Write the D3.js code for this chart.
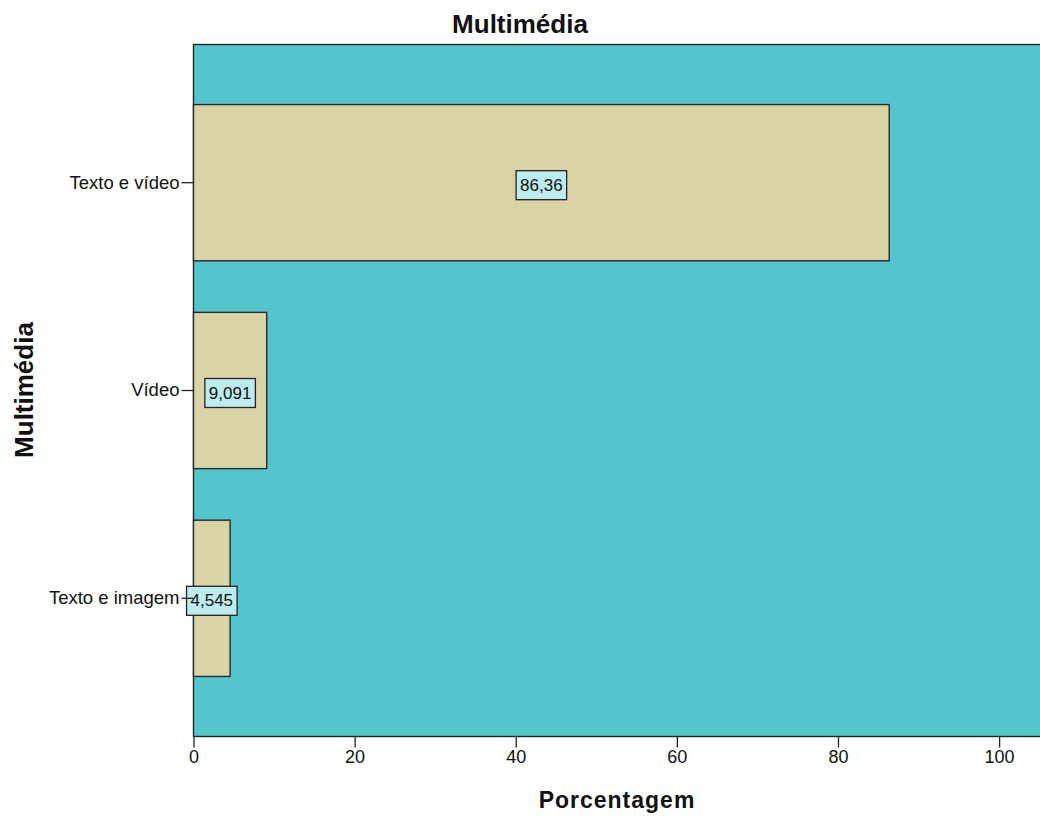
<!DOCTYPE html>
<html><head><meta charset="utf-8">
<script src="https://cdn.jsdelivr.net/npm/d3@7"></script>
<style>body{margin:0;background:#fff;} text{font-family:"Liberation Sans",Arial,sans-serif;}</style>
</head><body>
<svg id="c" width="1040" height="817"></svg>
<script>
const categories = ["Texto e vídeo", "Vídeo", "Texto e imagem"];
const values = [86.36, 9.091, 4.545];
const valueLabels = ["86,36", "9,091", "4,545"];
const xTicks = [0, 20, 40, 60, 80, 100];

const svg = d3.select("#c");
const m = {l: 193.5, t: 44.5, r: 1041, b: 736.5};
const x = d3.scaleLinear().domain([0, 105.2]).range([m.l, m.r]);
const y = d3.scaleBand().domain(categories).range([m.t, m.b]).paddingInner(0.248).paddingOuter(0.289);

svg.append("rect").attr("x", m.l).attr("y", m.t).attr("width", m.r - m.l).attr("height", m.b - m.t)
  .attr("fill", "#53c6cd").attr("stroke", "#222").attr("stroke-width", 1.4);

svg.selectAll(".bar").data(values).enter().append("rect")
  .attr("x", x(0)).attr("y", (d, i) => y(categories[i]))
  .attr("width", d => x(d) - x(0)).attr("height", y.bandwidth())
  .attr("fill", "#d9d3a5").attr("stroke", "#2a2a2a").attr("stroke-width", 1.4);

// value labels
values.forEach((v, i) => {
  const cx = x(v / 2), cy = y(categories[i]) + y.bandwidth() / 2 + 2;
  const g = svg.append("g");
  const t = g.append("text").attr("x", cx).attr("y", cy + 6).attr("text-anchor", "middle")
    .attr("font-size", 17).attr("fill", "#111").text(valueLabels[i]);
  const w = t.node().getComputedTextLength() + 8;
  g.insert("rect", "text").attr("x", cx - w / 2).attr("y", cy - 14).attr("width", w).attr("height", 29)
    .attr("fill", "#bdebee").attr("stroke", "#222").attr("stroke-width", 1.3);
});

// x axis
const xa = svg.append("g").attr("transform", `translate(0,${m.b})`)
  .call(d3.axisBottom(x).tickValues(xTicks).tickSize(11).tickSizeOuter(0).tickPadding(3));
xa.select(".domain").remove();
xa.selectAll("line").attr("stroke", "#222").attr("stroke-width", 1.3);
xa.selectAll("text").attr("font-size", 18).attr("fill", "#111").attr("font-family", "Liberation Sans, Arial, sans-serif");

// y axis
const ya = svg.append("g").attr("transform", `translate(${m.l},0)`)
  .call(d3.axisLeft(y).tickSize(12).tickSizeOuter(0).tickPadding(2));
ya.select(".domain").remove();
ya.selectAll("line").attr("stroke", "#222").attr("stroke-width", 1.3);
ya.selectAll("text").attr("font-size", 18.5).attr("fill", "#111").attr("font-family", "Liberation Sans, Arial, sans-serif");

svg.append("text").attr("x", 520).attr("y", 33).attr("text-anchor", "middle")
  .attr("font-size", 26).attr("font-weight", "bold").attr("fill", "#111").text("Multimédia");
svg.append("text").attr("x", 617).attr("y", 808).attr("text-anchor", "middle")
  .attr("font-size", 23).attr("font-weight", "bold").attr("fill", "#111").attr("letter-spacing", 1).text("Porcentagem");
svg.append("text").attr("transform", "translate(33,390) rotate(-90)").attr("text-anchor", "middle")
  .attr("font-size", 26).attr("font-weight", "bold").attr("fill", "#111").text("Multimédia");
</script>
</body></html>
